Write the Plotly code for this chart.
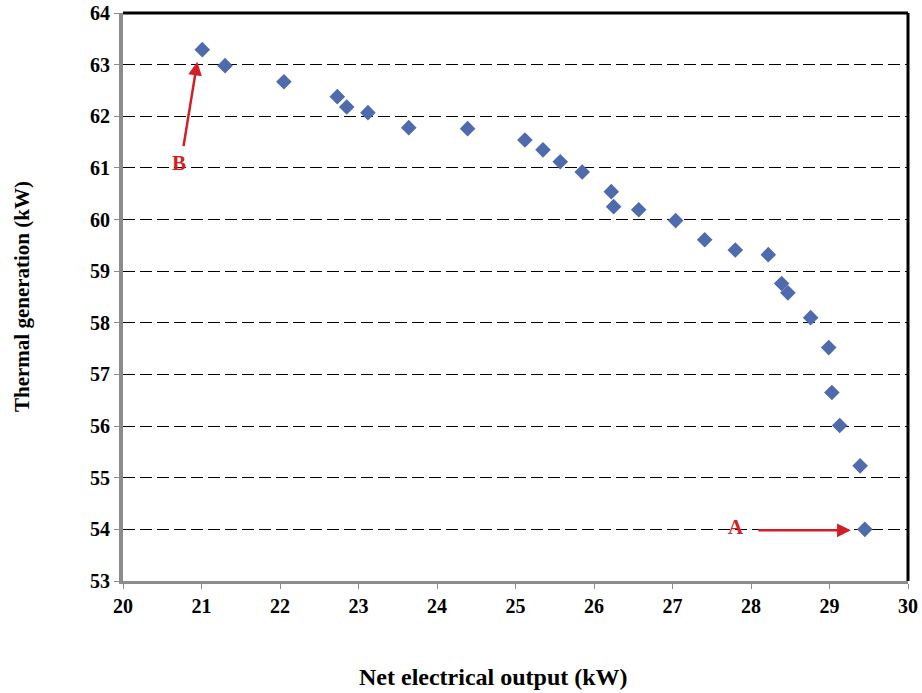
import plotly.graph_objects as go

net_output_kw = [21.01, 21.30, 22.05, 22.73, 22.85, 23.12, 23.64, 24.39, 25.12, 25.35,
                 25.57, 25.85, 26.22, 26.25, 26.57, 27.04, 27.41, 27.80, 28.22, 28.39,
                 28.47, 28.76, 28.99, 29.03, 29.13, 29.39, 29.45]
thermal_kw = [63.29, 62.98, 62.67, 62.38, 62.18, 62.07, 61.78, 61.76, 61.54, 61.35,
              61.12, 60.92, 60.54, 60.25, 60.19, 59.98, 59.61, 59.41, 59.32, 58.76,
              58.58, 58.10, 57.52, 56.65, 56.01, 55.23, 54.00]
x_ticks = list(range(20, 31))
y_ticks = list(range(53, 65))

FONT = "Liberation Serif"
RED = "#d21f26"
GRAY = "#8c8c8c"

fig = go.Figure()
fig.add_trace(go.Scatter(
    x=net_output_kw, y=thermal_kw, mode="markers",
    marker=dict(symbol="diamond", size=12, color="#4F6BAE",
                line=dict(width=0)),
    showlegend=False, hoverinfo="x+y"))

fig.update_layout(
    width=922, height=693,
    margin=dict(l=123, r=14, t=13, b=112),
    paper_bgcolor="white", plot_bgcolor="white",
    font=dict(family=FONT, color="black"),
    xaxis=dict(range=[20, 30], tickvals=x_ticks, showgrid=False, zeroline=False,
               automargin=False, ticklabeloverflow="allow",
               showline=True, linecolor=GRAY, linewidth=3,
               ticks="outside", tickcolor=GRAY, ticklen=5, tickwidth=1,
               tickfont=dict(family=FONT, size=20, color="black", weight="bold")),
    yaxis=dict(range=[53, 64], tickvals=y_ticks, zeroline=False, automargin=False,
               ticklabeloverflow="allow",
               showgrid=True, gridcolor="black", gridwidth=1.3, griddash="12px,5px",
               showline=True, linecolor=GRAY, linewidth=4,
               ticks="outside", tickcolor=GRAY, ticklen=5, tickwidth=1,
               tickfont=dict(family=FONT, size=20, color="black", weight="bold")),
)

# top and right borders
fig.add_shape(type="line", xref="paper", yref="paper", x0=0, x1=1, y0=1, y1=1,
              line=dict(color="black", width=3))
fig.add_shape(type="line", xref="paper", yref="paper", x0=1, x1=1, y0=0, y1=1,
              line=dict(color="black", width=3))

# axis titles
fig.add_annotation(text="<b>Net electrical output (kW)</b>", xref="paper", yref="paper",
                   x=0.4726, y=0, yshift=-96, showarrow=False, yanchor="middle",
                   font=dict(family=FONT, size=24, color="black"))
fig.add_annotation(text="<b>Thermal generation (kW)</b>", xref="paper", yref="paper",
                   x=0, y=0.5, xshift=-101, showarrow=False, textangle=-90,
                   xanchor="center", yanchor="middle",
                   font=dict(family=FONT, size=21, color="black"))

# Arrow B to the first point
fig.add_annotation(x=net_output_kw[0], y=thermal_kw[0], xref="x", yref="y",
                   text="", showarrow=True, arrowhead=2, arrowsize=1.1, arrowwidth=2.5,
                   arrowcolor=RED, ax=-14, ay=86, xshift=-5, yshift=-12)
fig.add_annotation(x=net_output_kw[0], y=thermal_kw[0], xref="x", yref="y",
                   text="<b>B</b>", showarrow=False, xshift=-23, yshift=-113,
                   font=dict(family=FONT, size=21, color=RED))
# Arrow A to the last point
fig.add_annotation(x=net_output_kw[-1], y=thermal_kw[-1], xref="x", yref="y",
                   text="", showarrow=True, arrowhead=2, arrowsize=1.1, arrowwidth=2.5,
                   arrowcolor=RED, ax=-94, ay=0, xshift=-14, yshift=-1)
fig.add_annotation(x=net_output_kw[-1], y=thermal_kw[-1], xref="x", yref="y",
                   text="<b>A</b>", showarrow=False, xshift=-129, yshift=2,
                   font=dict(family=FONT, size=21, color=RED))

fig.write_html("out.html", config={"displayModeBar": False},
               post_script="document.body.style.margin='0';"
                           "document.body.style.overflow='hidden';")
